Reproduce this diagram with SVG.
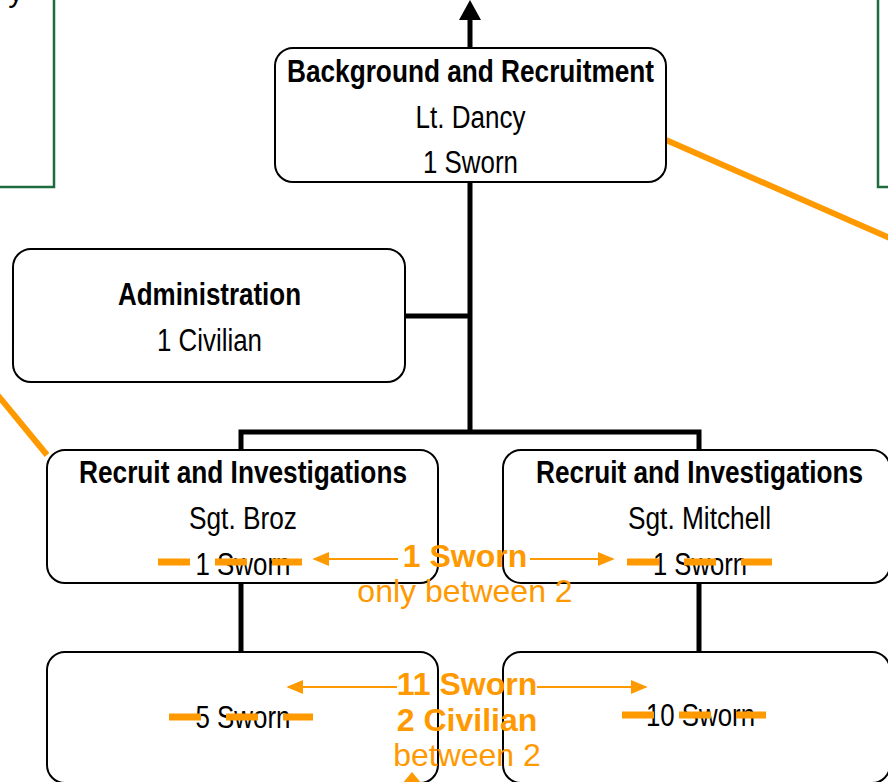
<svg xmlns="http://www.w3.org/2000/svg" width="888" height="782" viewBox="0 0 888 782">
<style>
.box{fill:#fff;stroke:#000;stroke-width:2}
.gbox{fill:#fff;stroke:#1e6b3e;stroke-width:2.5}
.t{font-family:"Liberation Sans Narrow","Liberation Sans",Arial,sans-serif;font-size:31px;fill:#000;text-anchor:middle}
.b{font-weight:bold}
.o{font-family:"Liberation Sans",Arial,sans-serif;font-size:32px;fill:#ff9900;text-anchor:middle}
.conn{stroke:#000;stroke-width:5;fill:none}
.oline{stroke:#ff9900;stroke-width:6;fill:none}
.arr{stroke:#ff9900;stroke-width:2;fill:none}
.strike{stroke:#ff9900;stroke-width:7;stroke-dasharray:32 25;fill:none}
</style>
<defs>
<marker id="oa" viewBox="0 0 10 10" refX="9" refY="5" markerWidth="17" markerHeight="14" markerUnits="userSpaceOnUse" orient="auto" preserveAspectRatio="none">
<path d="M0,0 L10,5 L0,10 z" fill="#ff9900"/>
</marker>
</defs>
<rect width="888" height="782" fill="#fff"/>

<g id="green-left">
<rect class="gbox" x="-10" y="-10" width="64" height="197"/>
<text class="t" x="16" y="1">y</text>
</g>
<g id="green-right">
<rect class="gbox" x="878" y="-10" width="30" height="197"/>
</g>

<g id="connectors">
<line class="conn" x1="470" y1="48" x2="470" y2="16"/>
<polygon points="470,0 459,20 481,20" fill="#000"/>
<line class="conn" x1="470" y1="182" x2="470" y2="434"/>
<line class="conn" x1="405" y1="316" x2="470" y2="316"/>
<polyline class="conn" points="241,450 241,432 699,432 699,450"/>
<line class="conn" x1="241" y1="583" x2="241" y2="652"/>
<line class="conn" x1="699" y1="583" x2="699" y2="652"/>
<line class="oline" x1="666" y1="140" x2="892" y2="239"/>
<line class="oline" x1="-4" y1="393" x2="47" y2="455"/>
</g>

<g id="background-recruitment">
<rect class="box" x="275" y="48" width="391" height="134" rx="18"/>
<text class="t b" x="470.5" y="82" textLength="367" lengthAdjust="spacingAndGlyphs">Background and Recruitment</text>
<text class="t" x="470.5" y="128" textLength="110" lengthAdjust="spacingAndGlyphs">Lt. Dancy</text>
<text class="t" x="470.5" y="173" textLength="95" lengthAdjust="spacingAndGlyphs">1 Sworn</text>
</g>

<g id="administration">
<rect class="box" x="13" y="249" width="392" height="133" rx="18"/>
<text class="t b" x="209.5" y="305" textLength="183" lengthAdjust="spacingAndGlyphs">Administration</text>
<text class="t" x="209.5" y="351" textLength="105" lengthAdjust="spacingAndGlyphs">1 Civilian</text>
</g>

<g id="recruit-broz">
<rect class="box" x="47" y="450" width="391" height="133" rx="18"/>
<text class="t b" x="243" y="483" textLength="328" lengthAdjust="spacingAndGlyphs">Recruit and Investigations</text>
<text class="t" x="243" y="529" textLength="108" lengthAdjust="spacingAndGlyphs">Sgt. Broz</text>
<text class="t" x="243" y="575" textLength="95" lengthAdjust="spacingAndGlyphs">1 Sworn</text>
<line class="strike" x1="158" y1="562" x2="302" y2="562"/>
</g>

<g id="recruit-mitchell">
<rect class="box" x="503" y="450" width="387" height="133" rx="18"/>
<text class="t b" x="699.5" y="483" textLength="327" lengthAdjust="spacingAndGlyphs">Recruit and Investigations</text>
<text class="t" x="699.5" y="529" textLength="143" lengthAdjust="spacingAndGlyphs">Sgt. Mitchell</text>
<text class="t" x="700" y="575" textLength="94" lengthAdjust="spacingAndGlyphs">1 Sworn</text>
<line class="strike" x1="627" y1="562" x2="772" y2="562"/>
</g>

<g id="team-left">
<rect class="box" x="47" y="652" width="391" height="131" rx="18"/>
<text class="t" x="243" y="728" textLength="95" lengthAdjust="spacingAndGlyphs">5 Sworn</text>
<line class="strike" x1="169" y1="717" x2="313" y2="717"/>
</g>

<g id="team-right">
<rect class="box" x="503" y="652" width="387" height="131" rx="18"/>
<text class="t" x="700.5" y="726" textLength="109" lengthAdjust="spacingAndGlyphs">10 Sworn</text>
<line class="strike" x1="622" y1="715" x2="766" y2="715"/>
</g>

<g id="annotation-sgt">
<line class="arr" x1="398" y1="559" x2="314" y2="559" marker-end="url(#oa)"/>
<line class="arr" x1="530" y1="559" x2="613" y2="559" marker-end="url(#oa)"/>
<text class="o b" x="465" y="567">1 Sworn</text>
<text class="o" x="465" y="602">only between 2</text>
</g>

<g id="annotation-team">
<line class="arr" x1="397" y1="687" x2="288" y2="687" marker-end="url(#oa)"/>
<line class="arr" x1="537" y1="687" x2="646" y2="687" marker-end="url(#oa)"/>
<text class="o b" x="467" y="695">11 Sworn</text>
<text class="o b" x="467" y="731">2 Civilian</text>
<text class="o" x="467" y="766">between 2</text>
<polygon points="412,772 402,784 422,784" fill="#ff9900"/>
</g>
</svg>
